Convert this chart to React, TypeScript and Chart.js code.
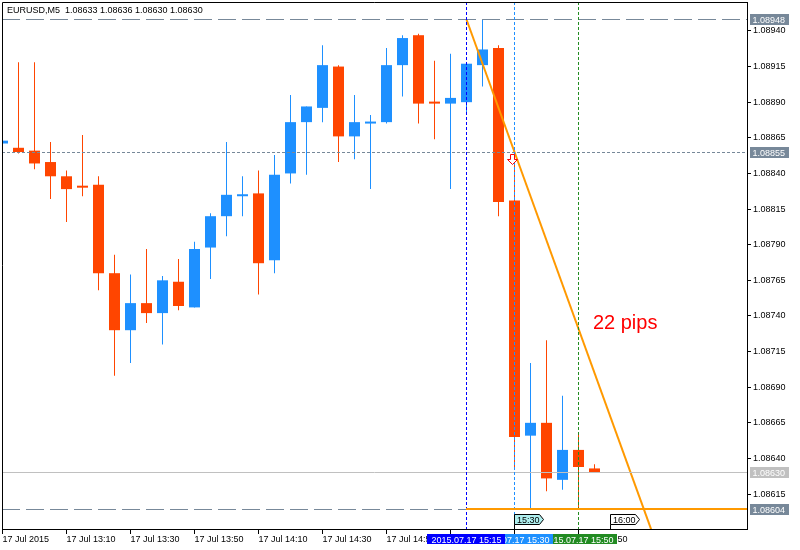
import React, { useEffect, useRef } from 'react';
import { Chart, registerables } from 'chart.js';

Chart.register(...registerables);

// ---- data (EURUSD, M5, 17 Jul 2015) ----
const times = [
  '12:50', '12:55', '13:00', '13:05', '13:10', '13:15', '13:20', '13:25', '13:30', '13:35',
  '13:40', '13:45', '13:50', '13:55', '14:00', '14:05', '14:10', '14:15', '14:20', '14:25',
  '14:30', '14:35', '14:40', '14:45', '14:50', '14:55', '15:00', '15:05', '15:10', '15:15',
  '15:20', '15:25', '15:30', '15:35', '15:40', '15:45', '15:50', '15:55',
];
const opens = [
  1.08861, 1.08858, 1.08856, 1.08848, 1.08838, 1.08831, 1.08832, 1.0877, 1.0873, 1.08749,
  1.08742, 1.08764, 1.08746, 1.08788, 1.0881, 1.08824, 1.08826, 1.08779, 1.0884, 1.08876,
  1.08886, 1.08915, 1.08866, 1.08875, 1.08876, 1.08916, 1.08937, 1.0889, 1.08889, 1.0889,
  1.08916, 1.08928, 1.08821, 1.08656, 1.08665, 1.08625, 1.08646, 1.08633,
];
const highs = [
  1.08863, 1.08918, 1.08918, 1.08862, 1.08842, 1.08867, 1.08838, 1.08783, 1.08769, 1.08787,
  1.08768, 1.0878, 1.08792, 1.08812, 1.08862, 1.08838, 1.08842, 1.08853, 1.08895, 1.08887,
  1.0893, 1.08916, 1.08895, 1.08881, 1.08928, 1.08937, 1.08938, 1.08919, 1.08924, 1.08917,
  1.08948, 1.0893, 1.08848, 1.08707, 1.08723, 1.08684, 1.08658, 1.08636,
];
const lows = [
  1.08861, 1.08854, 1.08843, 1.08822, 1.08806, 1.08824, 1.08758, 1.08698, 1.08707, 1.08735,
  1.0872, 1.08744, 1.08746, 1.08766, 1.08796, 1.0881, 1.08755, 1.0877, 1.08833, 1.08839,
  1.08876, 1.08848, 1.0885, 1.08829, 1.08875, 1.08894, 1.08875, 1.08864, 1.08829, 1.08881,
  1.08901, 1.0881, 1.08634, 1.08605, 1.08617, 1.08618, 1.08604, 1.0863,
];
const closes = [
  1.08863, 1.08855, 1.08847, 1.08838, 1.08829, 1.0883, 1.0877, 1.0873, 1.08749, 1.08742,
  1.08765, 1.08747, 1.08787, 1.0881, 1.08825, 1.08825, 1.08777, 1.08839, 1.08876, 1.08887,
  1.08916, 1.08866, 1.08876, 1.08876, 1.08916, 1.08935, 1.08889, 1.08889, 1.08893, 1.08917,
  1.08927, 1.0882, 1.08655, 1.08665, 1.08626, 1.08646, 1.08634, 1.0863,
];

const yTicks = [
  1.08615, 1.0864, 1.08665, 1.0869, 1.08715, 1.0874, 1.08765,
  1.0879, 1.08815, 1.0884, 1.08865, 1.0889, 1.08915, 1.0894,
];
const xTickTimes = ['12:50', '13:10', '13:30', '13:50', '14:10', '14:30', '14:50', '15:10', '15:30', '15:50'];
const xTickLabels = [
  '17 Jul 2015', '17 Jul 13:10', '17 Jul 13:30', '17 Jul 13:50', '17 Jul 14:10',
  '17 Jul 14:30', '17 Jul 14:50', '17 Jul 15:10', '17 Jul 15:30', '17 Jul 15:50',
];

const levelPrices = [1.08948, 1.08855, 1.0863, 1.08604];
const vLineTimes = ['15:15', '15:30', '15:50'];
const vLineLabels = ['2015.07.17 15:15', '2015.07.17 15:30', '2015.07.17 15:50'];
const trendTimes = ['15:15', '15:30'];
const trendPrices = [1.08948, 1.08855];
const rayTime = '15:15';
const rayPrice = 1.08604;
const arrowTime = '15:30';
const arrowPrice = 1.08855;
const tagTimes = ['15:30', '16:00'];
const pipsText = '22 pips';
const pipsIndex = 36.9;
const pipsPrice = 1.08731;
const headerText = 'EURUSD,M5  1.08633 1.08636 1.08630 1.08630';

// ---- styles ----
const BULL = '#1e90ff';
const BEAR = '#ff4500';
const ORANGE = '#ff9900';
const SLATE = '#778899';
const levelColors = [SLATE, SLATE, '#c0c0c0', SLATE];
const levelDashes = [[18, 6], [3, 2], [], [18, 6]];
const vLineColors = ['#0000ff', '#1e90ff', '#228b22'];
const tagFills = ['#afeeee', '#ffffff'];
const FAMILY = '"Liberation Sans", Arial, sans-serif';
const FONT = '9px ' + FAMILY;

const Y_MIN = 1.085905;
const Y_MAX = 1.089603;
const X_MIN = -1 / 32;
const X_MAX = X_MIN + 745 / 16;

const toMin = (t: string) => Number(t.slice(0, 2)) * 60 + Number(t.slice(3));
const idxOf = (t: string) => (toMin(t) - toMin(times[0])) / 5;

const overlayPlugin = {
  id: 'mtOverlay',
  afterDatasetsDraw(chart: any) {
    const { ctx, chartArea: a } = chart;
    const xs = chart.scales.x;
    const ys = chart.scales.y;
    const px = (i: number) => Math.floor(xs.getPixelForValue(i)) + 0.5;
    const py = (p: number) => Math.floor(ys.getPixelForValue(p)) + 0.5;
    ctx.save();
    ctx.beginPath();
    ctx.rect(a.left, a.top, a.right - a.left, a.bottom - a.top);
    ctx.clip();
    ctx.lineWidth = 1;
    // horizontal levels
    levelPrices.forEach((p, k) => {
      ctx.strokeStyle = levelColors[k];
      ctx.setLineDash(levelDashes[k]);
      ctx.beginPath();
      ctx.moveTo(a.left, py(p));
      ctx.lineTo(a.right, py(p));
      ctx.stroke();
    });
    // vertical lines
    ctx.setLineDash([3, 2]);
    vLineTimes.forEach((t, k) => {
      const xx = px(idxOf(t));
      ctx.strokeStyle = vLineColors[k];
      ctx.beginPath();
      ctx.moveTo(xx, a.top);
      ctx.lineTo(xx, a.bottom);
      ctx.stroke();
    });
    ctx.setLineDash([]);
    // orange horizontal ray
    const oy = Math.floor(ys.getPixelForValue(rayPrice));
    ctx.strokeStyle = ORANGE;
    ctx.lineWidth = 2;
    ctx.beginPath();
    ctx.moveTo(px(idxOf(rayTime)) - 0.5, oy);
    ctx.lineTo(a.right, oy);
    ctx.stroke();
    ctx.lineWidth = 1;
    // sell arrow
    const cx = px(idxOf(arrowTime)) - 2;
    const ty = Math.floor(ys.getPixelForValue(arrowPrice)) + 2.5;
    ctx.beginPath();
    ctx.moveTo(cx - 2, ty);
    ctx.lineTo(cx + 2, ty);
    ctx.lineTo(cx + 2, ty + 5);
    ctx.lineTo(cx + 5, ty + 5);
    ctx.lineTo(cx, ty + 10);
    ctx.lineTo(cx - 5, ty + 5);
    ctx.lineTo(cx - 2, ty + 5);
    ctx.closePath();
    ctx.fillStyle = '#ffffff';
    ctx.fill();
    ctx.strokeStyle = '#ff0000';
    ctx.stroke();
    // 22 pips text
    ctx.font = '20px ' + FAMILY;
    ctx.fillStyle = '#ff0000';
    ctx.textAlign = 'left';
    ctx.textBaseline = 'alphabetic';
    ctx.fillText(pipsText, xs.getPixelForValue(pipsIndex), ys.getPixelForValue(pipsPrice));
    // time tags at the bottom
    ctx.font = FONT;
    tagTimes.forEach((t, k) => {
      const tx = px(idxOf(t));
      const bot = a.bottom - 4.5;
      const top = bot - 10;
      ctx.beginPath();
      ctx.moveTo(tx, top);
      ctx.lineTo(tx + 25, top);
      ctx.lineTo(tx + 29, top + 5);
      ctx.lineTo(tx + 25, bot);
      ctx.lineTo(tx, bot);
      ctx.closePath();
      ctx.fillStyle = tagFills[k];
      ctx.fill();
      ctx.strokeStyle = '#000000';
      ctx.stroke();
      ctx.beginPath();
      ctx.moveTo(tx, bot);
      ctx.lineTo(tx, a.bottom);
      ctx.stroke();
      ctx.fillStyle = '#000000';
      ctx.fillText(t, tx + 2.5, bot - 1.5);
    });
    ctx.restore();
  },
  afterDraw(chart: any) {
    const { ctx, chartArea: a } = chart;
    const xs = chart.scales.x;
    const ys = chart.scales.y;
    ctx.save();
    // frame (left & top)
    ctx.strokeStyle = '#000000';
    ctx.lineWidth = 1;
    ctx.beginPath();
    ctx.moveTo(a.left + 0.5, a.bottom);
    ctx.lineTo(a.left + 0.5, a.top + 0.5);
    ctx.lineTo(a.right, a.top + 0.5);
    ctx.stroke();
    ctx.font = FONT;
    ctx.textBaseline = 'alphabetic';
    // right price labels
    ctx.textAlign = 'left';
    levelPrices.forEach((p, k) => {
      const top = Math.floor(ys.getPixelForValue(p)) - 5;
      ctx.fillStyle = levelColors[k];
      ctx.fillRect(a.right + 3, top, 39, 11);
      ctx.fillStyle = '#ffffff';
      ctx.fillText(p.toFixed(5), a.right + 5.5, top + 9);
    });
    // bottom time labels of vertical lines (drawn so the first ends on top)
    ctx.textAlign = 'center';
    for (let k = vLineTimes.length - 1; k >= 0; k--) {
      const c = Math.floor(xs.getPixelForValue(idxOf(vLineTimes[k])));
      ctx.fillStyle = vLineColors[k];
      ctx.fillRect(c - 39, a.bottom + 5, 78, 10);
      ctx.fillStyle = '#ffffff';
      ctx.fillText(vLineLabels[k], c + 0.5, a.bottom + 14);
    }
    // header
    ctx.textAlign = 'left';
    ctx.fillStyle = '#000000';
    ctx.fillText(headerText, 7, 12.5);
    ctx.restore();
  },
};

export default function App() {
  const ref = useRef<HTMLCanvasElement>(null);
  useEffect(() => {
    if (!ref.current) return;
    const colors = times.map((_, i) => (closes[i] >= opens[i] ? BULL : BEAR));
    const wickData = times.map((_, i) => ({ x: i, y: [lows[i], highs[i]] }));
    const bodyData = times.map((_, i) => ({ x: i, y: [opens[i], closes[i]] }));
    const t0 = idxOf(trendTimes[0]);
    const t1 = idxOf(trendTimes[1]);
    const slope = (trendPrices[1] - trendPrices[0]) / (t1 - t0);
    const trendData = [
      { x: t0, y: trendPrices[0] },
      { x: X_MAX, y: trendPrices[0] + slope * (X_MAX - t0) },
    ];
    const tickFont = { family: FAMILY, size: 9 };
    const chart = new Chart(ref.current, {
      type: 'bar',
      data: {
        datasets: [
          {
            type: 'line',
            data: trendData,
            borderColor: ORANGE,
            borderWidth: 2,
            pointRadius: 0,
            fill: false,
            tension: 0,
            order: 0,
          } as any,
          {
            data: bodyData,
            backgroundColor: colors,
            barThickness: 11,
            grouped: false,
            minBarLength: 2,
            inflateAmount: 0,
            borderWidth: 0,
            clip: 0,
            order: 1,
          } as any,
          {
            data: wickData,
            backgroundColor: colors,
            barThickness: 1,
            grouped: false,
            inflateAmount: 0,
            borderWidth: 0,
            clip: 0,
            order: 2,
          } as any,
        ],
      },
      options: {
        responsive: false,
        animation: false,
        devicePixelRatio: 1,
        events: [],
        layout: { padding: { left: 2, top: 2, right: 0, bottom: 0 } },
        plugins: { legend: { display: false }, tooltip: { enabled: false } },
        scales: {
          x: {
            type: 'linear',
            position: 'bottom',
            min: X_MIN,
            max: X_MAX,
            offset: false,
            afterBuildTicks: (s: any) => {
              s.ticks = xTickTimes.map((t) => ({ value: idxOf(t) }));
            },
            afterFit: (s: any) => {
              s.height = 21;
              s.paddingLeft = 0;
              s.paddingRight = 0;
            },
            grid: {
              display: true,
              offset: false,
              drawOnChartArea: false,
              drawTicks: true,
              tickLength: 5,
              color: '#000000',
              lineWidth: 1,
            },
            border: { display: true, color: '#000000', width: 1 },
            ticks: {
              align: 'start',
              autoSkip: false,
              maxRotation: 0,
              minRotation: 0,
              padding: 0,
              color: '#000000',
              font: tickFont,
              callback: (_v: any, i: number) => xTickLabels[i],
            },
          },
          y: {
            type: 'linear',
            position: 'right',
            min: Y_MIN,
            max: Y_MAX,
            beginAtZero: false,
            afterBuildTicks: (s: any) => {
              s.ticks = yTicks.map((v) => ({ value: v }));
            },
            afterFit: (s: any) => {
              s.width = 53;
              s.paddingTop = 0;
              s.paddingBottom = 0;
            },
            grid: {
              display: true,
              drawOnChartArea: false,
              drawTicks: true,
              tickLength: 4,
              color: '#000000',
              lineWidth: 1,
            },
            border: { display: true, color: '#000000', width: 1 },
            ticks: {
              padding: 2,
              color: '#000000',
              font: tickFont,
              callback: (v: any) => Number(v).toFixed(5),
            },
          },
        },
      } as any,
      plugins: [overlayPlugin],
    });
    return () => chart.destroy();
  }, []);
  return (
    <div style={{ position: 'absolute', left: 0, top: 0, width: 800, height: 550, background: '#ffffff' }}>
      <canvas ref={ref} width={800} height={550} style={{ display: 'block' }} />
    </div>
  );
}
